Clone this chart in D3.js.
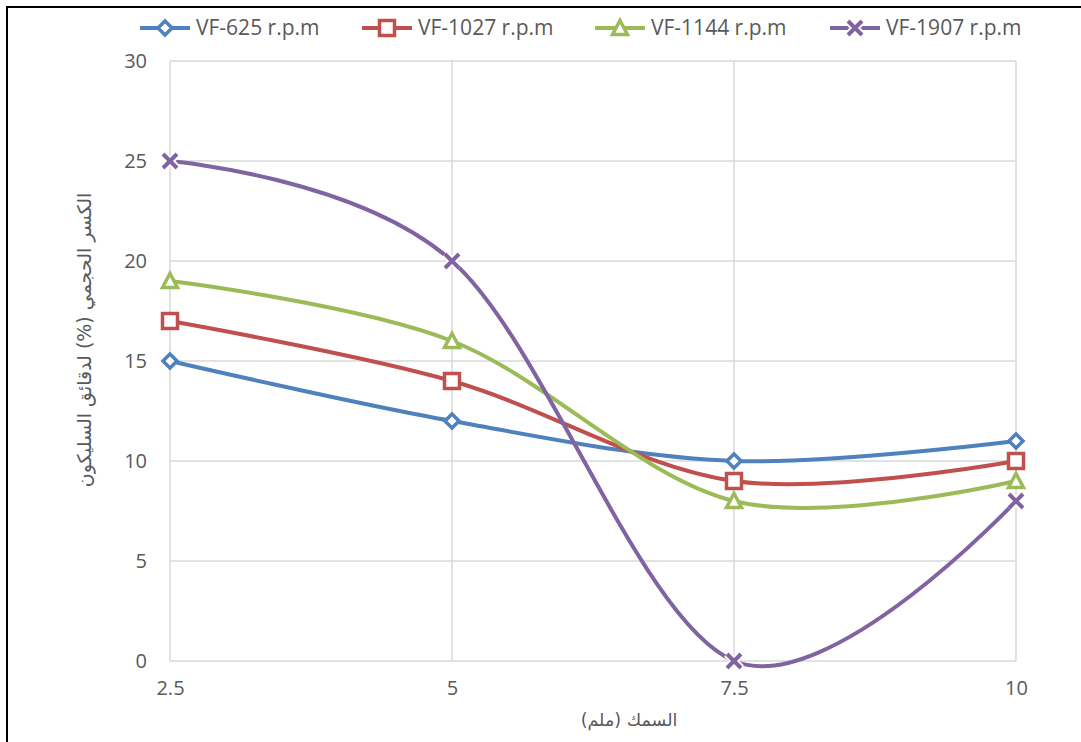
<!DOCTYPE html>
<html>
<head>
<meta charset="utf-8">
<script src="https://cdn.jsdelivr.net/npm/d3@7"></script>
<style>
  html, body { margin: 0; padding: 0; background: #fff; }
  svg { display: block; }
  text { font-family: "Open Sans", "DejaVu Sans", sans-serif; fill: #595959; }
</style>
</head>
<body>
<svg id="chart" width="1081" height="742"></svg>
<script>
// Thickness (mm) on the x axis
const thickness = [2.5, 5, 7.5, 10];
const xTicks = [2.5, 5, 7.5, 10];
const yTicks = [0, 5, 10, 15, 20, 25, 30];

// Volume fraction (%) of silicon particles for each rotation speed
const vf625 = [15, 12, 10, 11];
const vf1027 = [17, 14, 9, 10];
const vf1144 = [19, 16, 8, 9];
const vf1907 = [25, 20, 0, 8];

const seriesNames = ["VF-625 r.p.m", "VF-1027 r.p.m", "VF-1144 r.p.m", "VF-1907 r.p.m"];
const seriesValues = [vf625, vf1027, vf1144, vf1907];
const seriesColors = ["#4F81BD", "#C0504D", "#9BBB59", "#8064A2"];
const seriesMarkers = ["diamond", "square", "triangle", "cross"];

const xTitle = "السمك  (ملم)";
const yTitle = "الكسر الحجمي (%) لدقائق السليكون";

const svg = d3.select("#chart");
const plot = { left: 170, right: 1016, top: 61, bottom: 661 };

const x = d3.scaleLinear().domain([2.5, 10]).range([plot.left, plot.right]);
const y = d3.scaleLinear().domain([0, 30]).range([plot.bottom, plot.top]);

// Outer frame
svg.append("path")
  .attr("d", "M7,742 V7 H1081")
  .attr("fill", "none").attr("stroke", "#000").attr("stroke-width", 2);

// Gridlines
const grid = svg.append("g");
grid.selectAll(".hg").data(yTicks).join("line")
  .attr("x1", plot.left).attr("x2", plot.right)
  .attr("y1", d => y(d)).attr("y2", d => y(d))
  .attr("stroke", "#d9d9d9").attr("stroke-width", 1.5);
grid.selectAll(".vg").data(xTicks).join("line")
  .attr("y1", plot.top).attr("y2", plot.bottom)
  .attr("x1", d => x(d)).attr("x2", d => x(d))
  .attr("stroke", "#d9d9d9").attr("stroke-width", 1.5);

// Axes (labels only)
const yAxis = svg.append("g")
  .attr("transform", `translate(${plot.left - 23},0)`)
  .call(d3.axisLeft(y).tickValues(yTicks).tickSize(0).tickPadding(0));
yAxis.select(".domain").remove();
yAxis.selectAll("text").attr("font-size", 20).style("fill", "#595959")
  .style("font-family", "'Open Sans', sans-serif");

const xAxis = svg.append("g")
  .attr("transform", `translate(0,${plot.bottom + 20})`)
  .call(d3.axisBottom(x).tickValues(xTicks).tickSize(0).tickPadding(0)
    .tickFormat(d => String(d)));
xAxis.select(".domain").remove();
xAxis.selectAll("text").attr("font-size", 20).style("fill", "#595959")
  .style("font-family", "'Open Sans', sans-serif");

// Axis titles
svg.append("text")
  .attr("x", 629).attr("y", 726)
  .attr("text-anchor", "middle")
  .attr("font-size", 17.5)
  .style("font-family", "'DejaVu Sans', sans-serif")
  .text(xTitle);

svg.append("text")
  .attr("transform", "translate(91,340) rotate(-90)")
  .attr("text-anchor", "middle")
  .attr("font-size", 19)
  .style("font-family", "'DejaVu Sans', sans-serif")
  .text(yTitle);

// Smoothed series lines
const line = d3.line()
  .x((d, i) => x(thickness[i]))
  .y(d => y(d))
  .curve(d3.curveCardinal.tension(0));

const lines = svg.append("g");
seriesValues.forEach((vals, s) => {
  lines.append("path")
    .datum(vals)
    .attr("d", line)
    .attr("fill", "none")
    .attr("stroke", seriesColors[s])
    .attr("stroke-width", 4)
    .attr("stroke-linecap", "round");
});

// Marker drawing
function drawMarker(g, type, color, cx, cy) {
  if (type === "diamond") {
    g.append("path")
      .attr("d", `M${cx},${cy - 7} L${cx + 7},${cy} L${cx},${cy + 7} L${cx - 7},${cy} Z`)
      .attr("fill", "#fff").attr("stroke", color).attr("stroke-width", 3.5);
  } else if (type === "square") {
    g.append("rect")
      .attr("x", cx - 7.5).attr("y", cy - 7.5).attr("width", 15).attr("height", 15)
      .attr("fill", "#fff").attr("stroke", color).attr("stroke-width", 3.5);
  } else if (type === "triangle") {
    g.append("path")
      .attr("d", `M${cx},${cy - 7.5} L${cx + 7.5},${cy + 6.5} L${cx - 7.5},${cy + 6.5} Z`)
      .attr("fill", "#fff").attr("stroke", color).attr("stroke-width", 3.5)
      .attr("stroke-linejoin", "miter");
  } else if (type === "cross") {
    const r = 7;
    const d = `M${cx - r},${cy - r} L${cx + r},${cy + r} M${cx + r},${cy - r} L${cx - r},${cy + r}`;
    g.append("path").attr("d", d).attr("stroke", "#fff").attr("stroke-width", 8);
    g.append("path").attr("d", d).attr("stroke", color).attr("stroke-width", 4);
  }
}

const markers = svg.append("g");
seriesValues.forEach((vals, s) => {
  vals.forEach((v, i) => {
    drawMarker(markers, seriesMarkers[s], seriesColors[s], x(thickness[i]), y(v));
  });
});

// Legend
const legendX = [140, 362, 595, 830];
const legend = svg.append("g");
seriesNames.forEach((name, s) => {
  const lx = legendX[s], ly = 28;
  legend.append("line")
    .attr("x1", lx).attr("x2", lx + 50).attr("y1", ly).attr("y2", ly)
    .attr("stroke", seriesColors[s]).attr("stroke-width", 4);
  drawMarker(legend, seriesMarkers[s], seriesColors[s], lx + 25, ly);
  legend.append("text")
    .attr("x", lx + 56).attr("y", ly + 7)
    .attr("font-size", 21)
    .text(name);
});
</script>
</body>
</html>
